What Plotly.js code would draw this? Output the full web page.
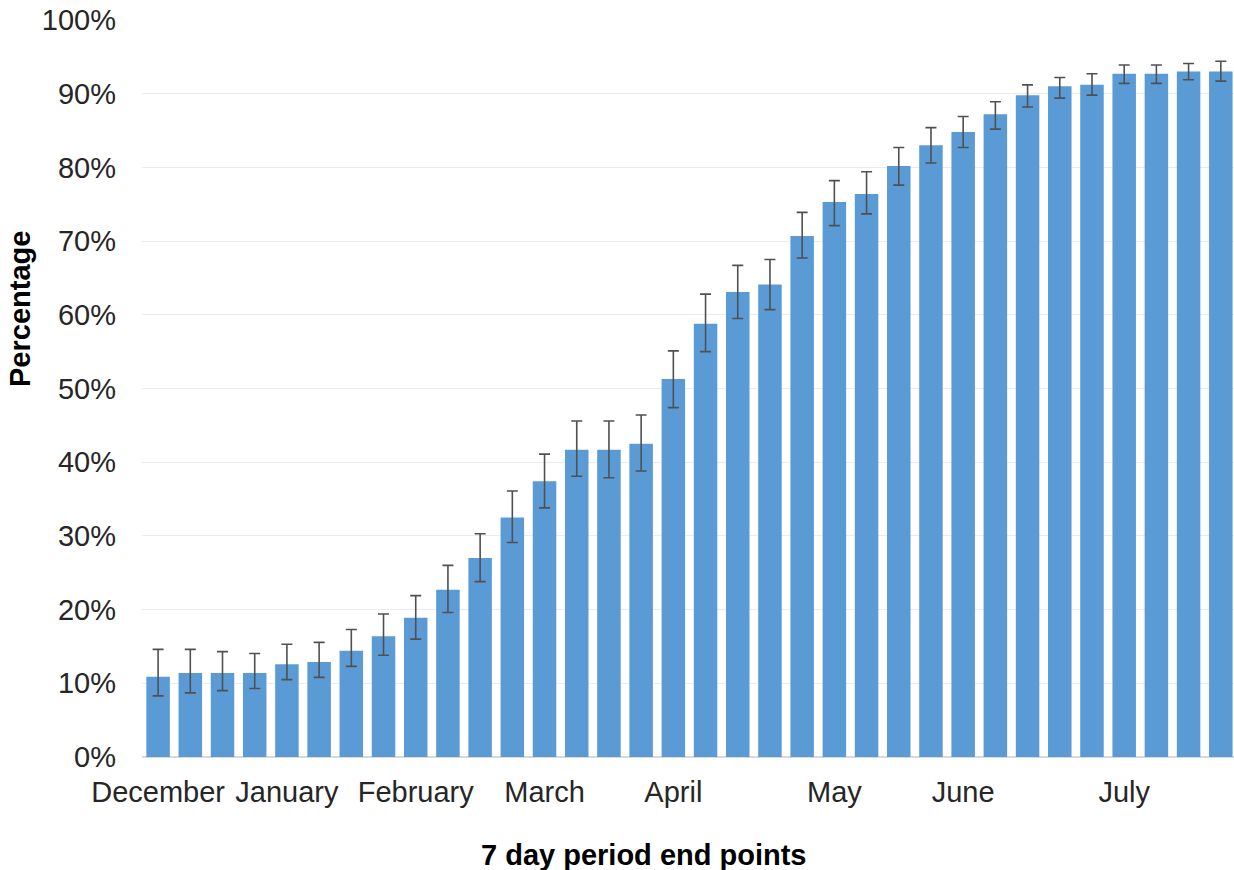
<!DOCTYPE html>
<html>
<head>
<meta charset="utf-8">
<script src="https://cdn.plot.ly/plotly-3.0.1.min.js"></script>
<style>
  html, body { margin: 0; padding: 0; background: #ffffff; }
  #chart { width: 1234px; height: 870px; }
</style>
</head>
<body>
<div id="chart"></div>
<script>
// 7-day period index (34 periods)
const periods = [1, 2, 3, 4, 5, 6, 7, 8, 9, 10, 11, 12, 13, 14, 15, 16, 17,
                 18, 19, 20, 21, 22, 23, 24, 25, 26, 27, 28, 29, 30, 31, 32, 33, 34];

// Percentage estimate for each period
const percentage = [10.9, 11.4, 11.4, 11.4, 12.6, 12.9, 14.4, 16.4, 18.9, 22.7, 27.0, 32.5,
                    37.4, 41.7, 41.7, 42.5, 51.3, 58.8, 63.1, 64.1, 70.7, 75.3, 76.4, 80.2,
                    83.0, 84.8, 87.2, 89.8, 91.0, 91.2, 92.7, 92.7, 93.0, 93.0];

// Upper and lower confidence bounds
const upperBound = [14.6, 14.6, 14.3, 14.05, 15.3, 15.55, 17.3, 19.4, 21.9, 26.0, 30.3, 36.1,
                    41.1, 45.6, 45.6, 46.4, 55.1, 62.8, 66.7, 67.5, 73.9, 78.2, 79.4, 82.7,
                    85.4, 86.9, 88.9, 91.2, 92.2, 92.7, 93.9, 93.9, 94.1, 94.4];
const lowerBound = [8.3, 8.7, 9.0, 9.3, 10.5, 10.8, 12.3, 13.8, 16.0, 19.6, 23.8, 29.1,
                    33.8, 38.1, 37.9, 38.8, 47.4, 55.0, 59.5, 60.7, 67.7, 72.1, 73.7, 77.6,
                    80.6, 82.7, 85.2, 88.2, 89.4, 89.8, 91.4, 91.4, 91.9, 91.7];

// Month tick labels and the periods they sit under
const monthTickPeriods = [1, 5, 9, 13, 17, 22, 26, 31];
const monthLabels = ["December", "January", "February", "March", "April", "May", "June", "July"];

// Y axis ticks
const yTickVals = [0, 10, 20, 30, 40, 50, 60, 70, 80, 90, 100];
const yTickLabels = ["0%", "10%", "20%", "30%", "40%", "50%", "60%", "70%", "80%", "90%", "100%"];

const errPlus = percentage.map((v, i) => upperBound[i] - v);
const errMinus = percentage.map((v, i) => v - lowerBound[i]);

const FONT = "Liberation Sans, Arial, sans-serif";

const trace = {
  type: "bar",
  x: periods,
  y: percentage,
  marker: { color: "#5b9bd5", line: { width: 0 } },
  error_y: {
    type: "data",
    symmetric: false,
    array: errPlus,
    arrayminus: errMinus,
    color: "#505050",
    thickness: 1.6,
    width: 5.5
  },
  hovertemplate: "%{y:.1f}%<extra></extra>"
};

const layout = {
  width: 1234,
  height: 870,
  margin: { l: 142, r: 0, t: 20, b: 113 },
  paper_bgcolor: "#ffffff",
  plot_bgcolor: "#ffffff",
  bargap: 0.27,
  showlegend: false,
  font: { family: FONT, color: "#404040", size: 29 },
  xaxis: {
    range: [0.5, 34.41],
    tickmode: "array",
    tickvals: monthTickPeriods,
    ticktext: monthLabels,
    ticks: "",
    showgrid: false,
    zeroline: false,
    showline: false,
    tickfont: { family: FONT, size: 29, color: "#262626" },
    ticklabelstandoff: 15
  },
  yaxis: {
    range: [0, 100],
    tickmode: "array",
    tickvals: yTickVals,
    ticktext: yTickLabels,
    ticks: "",
    showgrid: true,
    gridcolor: "#ebebeb",
    gridwidth: 1,
    zeroline: true,
    zerolinecolor: "#d9d9d9",
    zerolinewidth: 1.5,
    showline: false,
    tickfont: { family: FONT, size: 29, color: "#262626" },
    ticklabelstandoff: 25
  },
  annotations: [
    {
      text: "<b>7 day period end points</b>",
      xref: "paper", yref: "paper",
      x: (644 - 142) / (1234 - 142), y: -(855 - 757) / 737,
      xanchor: "center", yanchor: "middle",
      showarrow: false,
      font: { family: FONT, size: 29, color: "#000000" }
    },
    {
      text: "<b>Percentage</b>",
      xref: "paper", yref: "paper",
      x: -(142 - 20) / (1234 - 142), y: (757 - 309) / 737,
      xanchor: "center", yanchor: "middle",
      textangle: -90,
      showarrow: false,
      font: { family: FONT, size: 29, color: "#000000" }
    }
  ]
};

Plotly.newPlot("chart", [trace], layout, { staticPlot: true, displayModeBar: false });
</script>
</body>
</html>
